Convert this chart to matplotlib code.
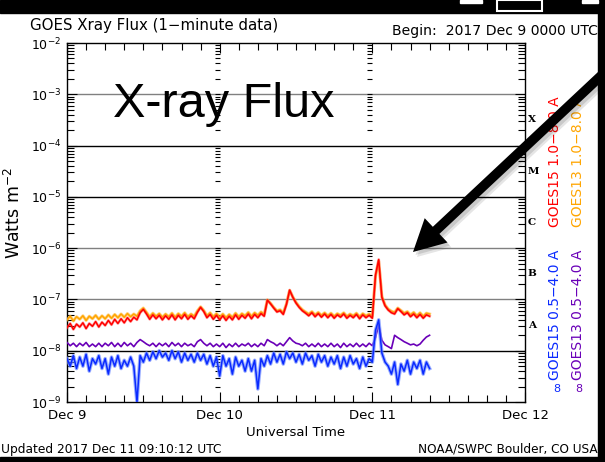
import numpy as np
import matplotlib
matplotlib.use('Agg')
import matplotlib.pyplot as plt
from matplotlib.ticker import LogLocator, NullFormatter, MultipleLocator, FixedLocator, LogFormatterMathtext
from matplotlib.patches import Rectangle, FancyArrowPatch
import matplotlib.transforms as mtrans

# ---------------- data (flux in units of 1e-9 W m^-2, 30-min samples from Dec 9 00:00) ----------
hours = np.arange(0, 57.5, 0.5)

goes15_long = [28, 34, 26, 33, 29, 35, 27, 34, 30, 37, 29,
               36, 31, 39, 32, 41, 34, 42, 35, 44, 37,
               45, 40, 55, 64, 52, 41, 50, 42, 49, 40,
               48, 41, 50, 40, 49, 42, 51, 41, 48, 42,
               56, 70, 58, 44, 51, 41, 49, 40, 48, 39,
               47, 40, 50, 41, 49, 43, 52, 42, 51, 44,
               53, 47, 97, 82, 68, 57, 60, 51, 80, 152,
               110, 85, 70, 60, 54, 48, 55, 46, 53, 45,
               52, 44, 51, 43, 50, 45, 52, 43, 49, 44,
               51, 42, 50, 44, 49, 43, 300, 600, 110, 75,
               62, 55, 52, 66, 58, 50, 55, 46, 52, 44,
               51, 43, 50, 47]

goes13_long = [40, 47, 38, 46, 41, 48, 39, 47, 42, 49, 41,
               48, 42, 50, 43, 51, 44, 52, 45, 53, 46,
               52, 47, 60, 68, 56, 46, 54, 47, 53, 45,
               52, 46, 54, 45, 53, 47, 55, 46, 52, 47,
               60, 72, 61, 48, 55, 46, 53, 45, 52, 44,
               51, 45, 54, 46, 53, 48, 56, 47, 55, 49,
               57, 51, 98, 84, 70, 60, 63, 55, 82, 150,
               112, 88, 73, 63, 57, 52, 58, 50, 56, 49,
               55, 48, 54, 47, 53, 49, 55, 47, 52, 48,
               54, 46, 53, 48, 52, 47, 280, 560, 115, 78,
               65, 59, 56, 68, 61, 54, 58, 50, 56, 48,
               55, 47, 54, 52]

goes13_short = [14.5, 12.5, 14, 12, 14, 12.5, 14.5, 12, 13.5, 12, 14,
                12, 14, 12.5, 14.5, 12, 14, 12, 14.5, 12.5, 14,
                12, 14.5, 16.5, 15, 13.5, 12.5, 14, 12, 14, 12.5,
                14, 12, 14.5, 12.5, 14, 12, 14, 12.5, 13.5, 12,
                15, 16.5, 14, 12.5, 14, 12, 13.5, 12, 14, 11.5,
                13.5, 12, 14, 12, 13.5, 12.5, 14, 12, 13.5, 12,
                14, 12.5, 16.5, 15, 14, 12.5, 14, 12.5, 15, 18,
                15.5, 14, 13.5, 12.5, 14, 12, 13.5, 12, 14, 12,
                13.5, 12, 14, 12, 13.5, 11.5, 14, 12, 13.5, 12,
                14, 12, 13.5, 12, 14, 12.5, 18, 32, 16, 13,
                12, 11, 20, 18, 16.5, 15, 14, 13, 13.5, 12.5,
                13.5, 16, 18.5, 20]

goes15_short = [7, 5, 8, 4.5, 7.5, 5, 8.5, 4, 7, 5.5, 8,
                4.5, 7, 3.5, 7.5, 5, 8, 4.5, 6.5, 5, 7.5,
                5, 1.0, 8, 6, 9, 6.5, 9.5, 7, 10, 7.5,
                9, 6.5, 10, 7, 9.5, 6, 9, 6.5, 8.5, 6,
                9, 6.5, 8.5, 5.5, 8, 5, 7.5, 3.2, 8, 5,
                7, 3.5, 7.5, 5, 6.5, 4, 7, 4, 6.5, 1.8,
                7, 5, 8, 5.5, 9, 6, 8.5, 5.5, 9.5, 7,
                9, 6, 8.5, 5.5, 9, 6.5, 8, 5, 8.5, 6,
                8, 5, 7.5, 5.5, 8, 4.5, 7.5, 5, 8, 5.5,
                7, 4.5, 7.5, 5, 7, 6, 25, 40, 9, 6,
                5, 3.5, 6, 2.2, 5.5, 4, 6.5, 3.5, 6, 4.5,
                6.5, 3.5, 6, 4.5]

day_labels = ['Dec 9', 'Dec 10', 'Dec 11', 'Dec 12']
class_letters = ['A', 'B', 'C', 'M', 'X']
class_levels = [10**-7.5, 10**-6.5, 10**-5.5, 10**-4.5, 10**-3.5]
grid_levels = [1e-3, 1e-4, 1e-5, 1e-6, 1e-7, 1e-8]
grid_colors = ['#808080', 'black', 'black', '#808080', '#808080', 'black']

# ---------------- figure ----------------
W, H = 605, 462
plt.rcParams['font.family'] = ['DejaVu Sans']
fig = plt.figure(figsize=(W / 100, H / 100), dpi=100)
fig.patch.set_facecolor('white')

def fx(x):
    return x / W

def fy(y):
    return 1 - y / H

ax = fig.add_axes([fx(67), fy(402), fx(525) - fx(67), fy(43) - fy(402)])
ax.set_yscale('log')
ax.set_xlim(0, 3)
ax.set_ylim(1e-9, 1e-2)

for lev, col in zip(grid_levels, grid_colors):
    ax.axhline(lev, color=col, lw=1.0, zorder=1)

days = hours / 24.0
g13l = np.array(goes13_long) * 1e-9
g15l = np.array(goes15_long) * 1e-9
g13s = np.array(goes13_short) * 1e-9
g15s = np.array(goes15_short) * 1e-9
ax.plot(days, g13l, color='#ffb733', lw=2.2, alpha=0.6, zorder=3)
ax.plot(days, g13l, color='#ffa500', lw=1.1, zorder=3)
ax.plot(days, g15l, color='#ff5050', lw=2.0, alpha=0.5, zorder=4)
ax.plot(days, g15l, color='#ff0000', lw=1.1, zorder=4)
ax.plot(days, g13s, color='#6a00b8', lw=1.2, zorder=3)
ax.plot(days, g15s, color='#6f8cff', lw=2.6, alpha=0.7, zorder=4)
ax.plot(days, g15s, color='#0a2aff', lw=1.1, zorder=4)

# ticks
ax.xaxis.set_major_locator(FixedLocator([0, 1, 2, 3]))
ax.set_xticklabels(day_labels)
ax.xaxis.set_minor_locator(MultipleLocator(0.125))
ax.xaxis.set_minor_formatter(NullFormatter())
ax.yaxis.set_major_locator(LogLocator(base=10, numticks=20))
ax.yaxis.set_major_formatter(LogFormatterMathtext())
ax.yaxis.set_minor_locator(LogLocator(base=10, subs=np.arange(2, 10), numticks=100))
ax.yaxis.set_minor_formatter(NullFormatter())
ax.tick_params(which='both', direction='in', top=True, right=True, width=0.8, colors='black')
ax.tick_params(which='major', length=7)
ax.tick_params(which='minor', length=5)
ax.tick_params(axis='x', labelsize=9.5, pad=5)
ax.tick_params(axis='y', labelsize=9, pad=4)
for s in ax.spines.values():
    s.set_linewidth(1.0)

# tick marks along the day boundaries
yt = [m * 10.0**e for e in range(-9, -2) for m in range(1, 10)] + [1e-2]
for d in [1, 2]:
    ax.plot([d] * len(yt), yt, ls='none', marker=0, ms=3.8, mew=0.8, color='black', zorder=2)

ax.set_xlabel('Universal Time', fontsize=9.5, labelpad=3)
ax.set_ylabel('Watts m$^{-2}$', fontsize=12.5)
ax.yaxis.set_label_coords(-0.093, 0.526)

btr = mtrans.blended_transform_factory(ax.transAxes, ax.transData)
for let, lev in zip(class_letters, class_levels):
    ax.text(1.006, lev, let, transform=btr, fontfamily='DejaVu Serif', fontsize=7.5,
            va='center', ha='left', fontweight='bold')

# texts
fig.text(fx(30), fy(30), 'GOES Xray Flux (1\u2212minute data)', fontsize=10.8, va='baseline', ha='left')
fig.text(fx(598), fy(35), 'Begin:  2017 Dec 9 0000 UTC', fontsize=10.1, va='baseline', ha='right')
fig.text(fx(1), fy(453), 'Updated 2017 Dec 11 09:10:12 UTC', fontsize=8.8, va='baseline', ha='left')
fig.text(fx(598), fy(453), 'NOAA/SWPC Boulder, CO USA', fontsize=8.7, va='baseline', ha='right')
fig.text(fx(113), fy(117), 'X-ray Flux', fontsize=35, family='Liberation Sans', va='baseline', ha='left')

fig.text(fx(555), fy(162), 'GOES15 1.0\u22128.0 A', color='#ff0000', fontsize=10, rotation=90, ha='center', va='center')
fig.text(fx(578), fy(162), 'GOES13 1.0\u22128.0 A', color='#ffa500', fontsize=10, rotation=90, ha='center', va='center')
fig.text(fx(555), fy(315), 'GOES15 0.5\u22124.0 A', color='#0a2aff', fontsize=10, rotation=90, ha='center', va='center')
fig.text(fx(578), fy(315), 'GOES13 0.5\u22124.0 A', color='#6a00b8', fontsize=10, rotation=90, ha='center', va='center')
fig.text(fx(557), fy(389), '8', color='#0a2aff', fontsize=8, ha='center', va='center')
fig.text(fx(579), fy(389), '8', color='#6a00b8', fontsize=8, ha='center', va='center')

# arrow with soft shadow
def arrow(ox, oy, color, alpha, z):
    p = FancyArrowPatch((6.20 + ox, (H - 58) / 100 + oy), (4.13 + ox, (H - 252) / 100 + oy),
                        transform=fig.dpi_scale_trans,
                        arrowstyle='simple,head_length=0.95,head_width=1.0,tail_width=0.29',
                        mutation_scale=24, color=color, alpha=alpha, lw=0, zorder=z,
                        shrinkA=0, shrinkB=0)
    fig.add_artist(p)

arrow(0.04, -0.05, 'black', 0.10, 19)
arrow(0.025, -0.03, 'black', 0.12, 19)
arrow(0, 0, 'black', 1.0, 20)

# black frame strips
fig.add_artist(Rectangle((0, fy(13)), 1, 1 - fy(13), transform=fig.transFigure, color='black', zorder=30))
fig.add_artist(Rectangle((fx(598), 0), 1 - fx(598), 1, transform=fig.transFigure, color='black', zorder=30))
fig.add_artist(Rectangle((0, 0), 1, fy(457), transform=fig.transFigure, color='black', zorder=30))
# window-control remnants at the top
fig.add_artist(Rectangle((fx(460), fy(3)), fx(22), fy(0) - fy(3), transform=fig.transFigure, color='white', zorder=31))
fig.add_artist(Rectangle((fx(497), fy(11)), fx(45), fy(0) - fy(11), transform=fig.transFigure,
                         facecolor='none', edgecolor='white', lw=1.5, zorder=31))
fig.add_artist(Rectangle((fx(582), fy(3)), fx(16), fy(0) - fy(3), transform=fig.transFigure, color='white', zorder=31))

fig.savefig('out.png', dpi=100, facecolor='white')
